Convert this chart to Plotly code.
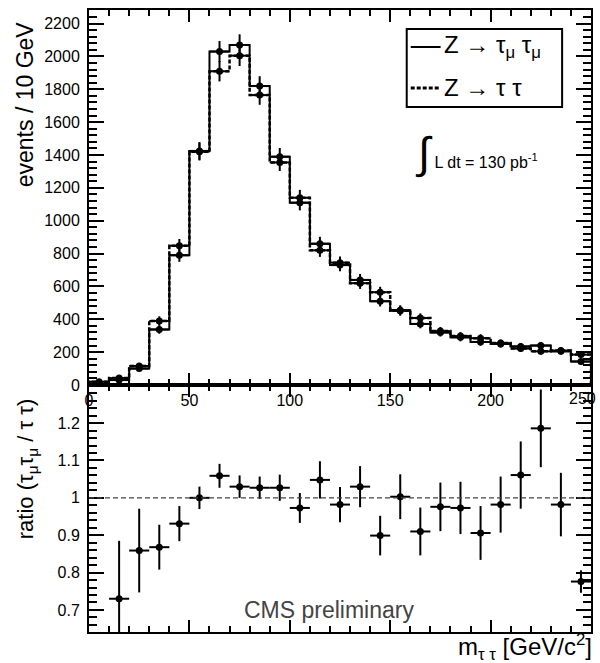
import plotly.graph_objects as go

# ---------------- data ----------------
bin_centres = [5, 15, 25, 35, 45, 55, 65, 75, 85, 95, 105, 115, 125, 135, 145,
               155, 165, 175, 185, 195, 205, 215, 225, 235, 245]
bin_half_width = 5

# Z -> tau_mu tau_mu (solid)
events_mumu = [8, 30, 100, 338, 790, 1425, 2030, 2070, 1820, 1390, 1110, 860, 730,
               640, 510, 455, 372, 320, 290, 262, 250, 235, 240, 205, 143]
err_mumu = [4, 8, 14, 26, 40, 54, 64, 65, 60, 53, 47, 42, 38, 36, 32, 30, 27, 25,
            24, 23, 22, 21, 22, 20, 17]
# Z -> tau tau (dashed)
events_tautau = [20, 42, 116, 390, 848, 1420, 1910, 2005, 1765, 1355, 1140, 820, 745,
                 620, 565, 452, 408, 328, 298, 285, 255, 222, 205, 210, 185]
err_tautau = [6, 9, 15, 28, 41, 53, 62, 63, 59, 52, 48, 40, 38, 35, 33, 30, 28, 25,
              24, 24, 22, 21, 20, 20, 19]

# ratio panel
ratio_x = [15, 25, 35, 45, 55, 65, 75, 85, 95, 105, 115, 125, 135, 145, 155, 165,
           175, 185, 195, 205, 215, 225, 235, 245]
ratio_val = [0.73, 0.859, 0.868, 0.931, 1.0, 1.059, 1.03, 1.027, 1.027, 0.973, 1.048,
             0.982, 1.03, 0.899, 1.003, 0.91, 0.976, 0.973, 0.906, 0.982, 1.061, 1.186,
             0.982, 0.776]
ratio_err = [0.155, 0.112, 0.06, 0.047, 0.03, 0.032, 0.03, 0.03, 0.035, 0.04, 0.05,
             0.047, 0.055, 0.053, 0.06, 0.064, 0.065, 0.07, 0.072, 0.075, 0.09, 0.104,
             0.085, 0.03]

x_ticks = [0, 50, 100, 150, 200, 250]
y_ticks = [0, 200, 400, 600, 800, 1000, 1200, 1400, 1600, 1800, 2000, 2200]
ratio_ticks = [0.7, 0.8, 0.9, 1.0, 1.1, 1.2]
ratio_ticktext = ["0.7", "0.8", "0.9", "1", "1.1", "1.2"]

FONT = "Liberation Sans, Arial, sans-serif"
TICK_SIZE = 16

# ---------------- figure ----------------
edges = [c - bin_half_width for c in bin_centres] + [bin_centres[-1] + bin_half_width]


def step(vals):
    xs = [edges[0]] + edges + [edges[-1]]
    ys = [0] + list(vals) + [vals[-1], 0]
    return xs, ys


fig = go.Figure()

xs, ys = step(events_mumu)
fig.add_trace(go.Scatter(x=xs, y=ys, mode="lines", line=dict(color="black", width=2, shape="hv"),
                         showlegend=False, xaxis="x", yaxis="y"))
xs, ys = step(events_tautau)
fig.add_trace(go.Scatter(x=xs, y=ys, mode="lines",
                         line=dict(color="black", width=2.5, shape="hv", dash="4px,2px"),
                         showlegend=False, xaxis="x", yaxis="y"))

for vals, errs in [(events_mumu, err_mumu), (events_tautau, err_tautau)]:
    fig.add_trace(go.Scatter(
        x=bin_centres, y=vals, mode="markers",
        marker=dict(color="black", size=7, symbol="circle"),
        error_x=dict(type="constant", value=bin_half_width, width=0, thickness=2, color="black"),
        error_y=dict(type="data", array=errs, width=0, thickness=2, color="black"),
        showlegend=False, xaxis="x", yaxis="y"))

fig.add_trace(go.Scatter(
    x=ratio_x, y=ratio_val, mode="markers",
    marker=dict(color="black", size=7, symbol="circle"),
    error_x=dict(type="constant", value=bin_half_width, width=0, thickness=2, color="black"),
    error_y=dict(type="data", array=ratio_err, width=0, thickness=2, color="black"),
    showlegend=False, xaxis="x2", yaxis="y2"))

split = 247 / 622

axis_common = dict(showline=True, linecolor="black", linewidth=2, mirror="allticks",
                   ticks="inside", tickcolor="black", tickwidth=1.7, showgrid=False,
                   zeroline=False, tickfont=dict(family=FONT, size=TICK_SIZE, color="black"))

fig.update_layout(
    width=600, height=663,
    margin=dict(l=89, r=7, t=10, b=31),
    paper_bgcolor="white", plot_bgcolor="white",
    font=dict(family=FONT, color="black"),
    xaxis=dict(domain=[0, 1], range=[0, 250], anchor="y", tickvals=x_ticks, ticklen=12,
               minor=dict(dtick=10, tick0=0, ticks="inside", ticklen=6, tickwidth=1.7, tickcolor="black"),
               **axis_common),
    yaxis=dict(domain=[split, 1], range=[0, 2283], anchor="x", tickvals=y_ticks, ticklen=15,
               ticklabelstandoff=4,
               minor=dict(dtick=40, tick0=0, ticks="inside", ticklen=8, tickwidth=1.7, tickcolor="black"),
               **axis_common),
    xaxis2=dict(domain=[0, 1], range=[0, 250], anchor="y2", tickvals=x_ticks, ticklen=12,
                showticklabels=False,
                minor=dict(dtick=10, tick0=0, ticks="inside", ticklen=6, tickwidth=1.7, tickcolor="black"),
                **axis_common),
    yaxis2=dict(domain=[0, split], range=[0.641, 1.302], anchor="x2", tickvals=ratio_ticks,
                ticktext=ratio_ticktext, ticklen=15, ticklabelstandoff=4,
                minor=dict(dtick=0.02, tick0=0.6, ticks="inside", ticklen=8, tickwidth=1.7, tickcolor="black"),
                **axis_common),
)

# reference line at ratio = 1
fig.add_shape(type="line", xref="x2", yref="y2", x0=0, x1=250, y0=1, y1=1,
              line=dict(color="#444", width=1.3, dash="5px,3px"))


def px_x(p):
    return (p - 89) / 504


def px_y(p):
    return (632 - p) / 622


# legend (drawn manually)
fig.add_shape(type="rect", xref="paper", yref="paper", x0=px_x(408), x1=px_x(564),
              y0=px_y(107), y1=px_y(29), line=dict(color="black", width=2), fillcolor="white")
fig.add_shape(type="line", xref="paper", yref="paper", x0=px_x(412), x1=px_x(442),
              y0=px_y(47), y1=px_y(47), line=dict(color="black", width=2))
fig.add_shape(type="line", xref="paper", yref="paper", x0=px_x(412), x1=px_x(442),
              y0=px_y(88), y1=px_y(88), line=dict(color="black", width=3, dash="4px,2px"))

annots = [
    dict(text="Z → τ<sub>μ</sub> τ<sub>μ</sub>", x=px_x(443), y=px_y(47), xanchor="left",
         yanchor="middle", font=dict(size=24)),
    dict(text="Z → τ τ", x=px_x(443), y=px_y(88), xanchor="left", yanchor="middle",
         font=dict(size=24)),
    dict(text='<span style="font-size:44px">∫</span> L dt = 130 pb<sup>-1</sup>',
         x=px_x(414), y=px_y(153), xanchor="left", yanchor="middle", font=dict(size=16)),
    dict(text="events / 10 GeV", x=px_x(25), y=px_y(104), xanchor="center", yanchor="middle",
         textangle=-90, font=dict(size=23)),
    dict(text="ratio (τ<sub>μ</sub>τ<sub>μ</sub> / τ τ)", x=px_x(27), y=px_y(469),
         xanchor="center", yanchor="middle", textangle=-90, font=dict(size=22)),
    dict(text="m<sub>τ τ</sub> [GeV/c<sup>2</sup>]", x=px_x(596), y=px_y(647), xanchor="right",
         yanchor="middle", font=dict(size=24)),
    dict(text="CMS preliminary", x=px_x(330), y=px_y(610), xanchor="center", yanchor="middle",
         font=dict(size=23, color="#444")),
    # last x tick label of the upper panel, kept inside the page edge
    dict(text=str(x_ticks[-1]), x=px_x(600), y=px_y(398), xanchor="right", yanchor="middle",
         font=dict(size=TICK_SIZE)),
]
for a in annots:
    fig.add_annotation(xref="paper", yref="paper", showarrow=False, **a)

fig.write_html("out.html")
